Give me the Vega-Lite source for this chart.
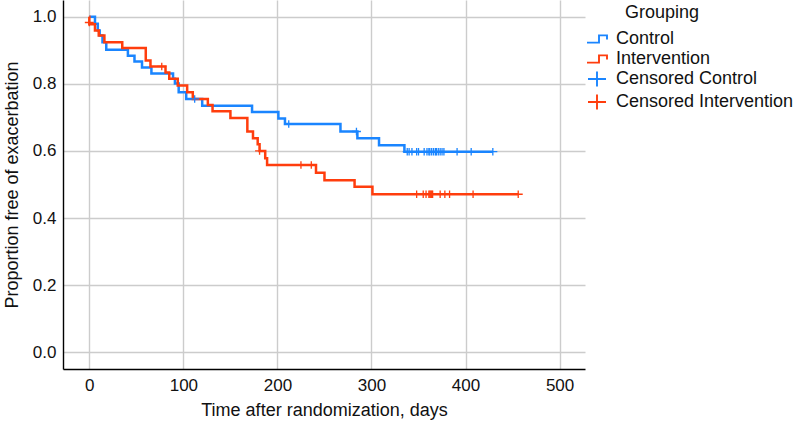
{
  "$schema": "https://vega.github.io/schema/vega-lite/v6.json",
  "autosize": "none",
  "width": 522,
  "height": 369,
  "padding": {"left": 63, "top": 0, "right": 211, "bottom": 52},
  "background": "white",
  "config": {
    "font": "Liberation Sans",
    "view": {"stroke": null},
    "axis": {
      "labelFont": "Liberation Sans",
      "titleFont": "Liberation Sans",
      "labelFontSize": 17,
      "titleFontSize": 18,
      "titleFontWeight": "normal",
      "labelColor": "#111",
      "titleColor": "#111",
      "domainColor": "#000",
      "domainWidth": 1.4,
      "gridColor": "#cccccc",
      "gridWidth": 1.4,
      "ticks": false
    }
  },
  "datasets": {
    "steps": [
      {"day": 0, "surv": 1.0, "group": "Control"},
      {"day": 6, "surv": 0.979, "group": "Control"},
      {"day": 9, "surv": 0.959, "group": "Control"},
      {"day": 11, "surv": 0.944, "group": "Control"},
      {"day": 14, "surv": 0.924, "group": "Control"},
      {"day": 18, "surv": 0.902, "group": "Control"},
      {"day": 41, "surv": 0.884, "group": "Control"},
      {"day": 48, "surv": 0.867, "group": "Control"},
      {"day": 56, "surv": 0.849, "group": "Control"},
      {"day": 66, "surv": 0.831, "group": "Control"},
      {"day": 89, "surv": 0.815, "group": "Control"},
      {"day": 91, "surv": 0.801, "group": "Control"},
      {"day": 95, "surv": 0.775, "group": "Control"},
      {"day": 103, "surv": 0.755, "group": "Control"},
      {"day": 120, "surv": 0.735, "group": "Control"},
      {"day": 173, "surv": 0.716, "group": "Control"},
      {"day": 201, "surv": 0.697, "group": "Control"},
      {"day": 208, "surv": 0.68, "group": "Control"},
      {"day": 267, "surv": 0.658, "group": "Control"},
      {"day": 285, "surv": 0.638, "group": "Control"},
      {"day": 308, "surv": 0.617, "group": "Control"},
      {"day": 335, "surv": 0.598, "group": "Control"},
      {"day": 429, "surv": 0.598, "group": "Control"},
      {"day": 0, "surv": 1.0, "group": "Intervention"},
      {"day": 0.01, "surv": 0.978, "group": "Intervention"},
      {"day": 6, "surv": 0.959, "group": "Intervention"},
      {"day": 10, "surv": 0.944, "group": "Intervention"},
      {"day": 16, "surv": 0.924, "group": "Intervention"},
      {"day": 35, "surv": 0.907, "group": "Intervention"},
      {"day": 60, "surv": 0.87, "group": "Intervention"},
      {"day": 65, "surv": 0.852, "group": "Intervention"},
      {"day": 81, "surv": 0.834, "group": "Intervention"},
      {"day": 85, "surv": 0.815, "group": "Intervention"},
      {"day": 94, "surv": 0.795, "group": "Intervention"},
      {"day": 104, "surv": 0.775, "group": "Intervention"},
      {"day": 110, "surv": 0.755, "group": "Intervention"},
      {"day": 126, "surv": 0.737, "group": "Intervention"},
      {"day": 131, "surv": 0.718, "group": "Intervention"},
      {"day": 150, "surv": 0.698, "group": "Intervention"},
      {"day": 168, "surv": 0.658, "group": "Intervention"},
      {"day": 174, "surv": 0.638, "group": "Intervention"},
      {"day": 179, "surv": 0.62, "group": "Intervention"},
      {"day": 181, "surv": 0.6, "group": "Intervention"},
      {"day": 187, "surv": 0.578, "group": "Intervention"},
      {"day": 189, "surv": 0.558, "group": "Intervention"},
      {"day": 241, "surv": 0.535, "group": "Intervention"},
      {"day": 250, "surv": 0.513, "group": "Intervention"},
      {"day": 282, "surv": 0.493, "group": "Intervention"},
      {"day": 301, "surv": 0.471, "group": "Intervention"},
      {"day": 456, "surv": 0.471, "group": "Intervention"}
    ],
    "censored": [
      {"day": 112, "surv": 0.755, "group": "Censored Control"},
      {"day": 212, "surv": 0.68, "group": "Censored Control"},
      {"day": 284, "surv": 0.658, "group": "Censored Control"},
      {"day": 338, "surv": 0.598, "group": "Censored Control"},
      {"day": 340, "surv": 0.598, "group": "Censored Control"},
      {"day": 343, "surv": 0.598, "group": "Censored Control"},
      {"day": 348, "surv": 0.598, "group": "Censored Control"},
      {"day": 350, "surv": 0.598, "group": "Censored Control"},
      {"day": 356, "surv": 0.598, "group": "Censored Control"},
      {"day": 359, "surv": 0.598, "group": "Censored Control"},
      {"day": 361, "surv": 0.598, "group": "Censored Control"},
      {"day": 362, "surv": 0.598, "group": "Censored Control"},
      {"day": 364, "surv": 0.598, "group": "Censored Control"},
      {"day": 366, "surv": 0.598, "group": "Censored Control"},
      {"day": 368, "surv": 0.598, "group": "Censored Control"},
      {"day": 369, "surv": 0.598, "group": "Censored Control"},
      {"day": 371, "surv": 0.598, "group": "Censored Control"},
      {"day": 373, "surv": 0.598, "group": "Censored Control"},
      {"day": 375, "surv": 0.598, "group": "Censored Control"},
      {"day": 377, "surv": 0.598, "group": "Censored Control"},
      {"day": 391, "surv": 0.598, "group": "Censored Control"},
      {"day": 406, "surv": 0.598, "group": "Censored Control"},
      {"day": 429, "surv": 0.598, "group": "Censored Control"},
      {"day": 0, "surv": 0.983, "group": "Censored Intervention"},
      {"day": 77, "surv": 0.852, "group": "Censored Intervention"},
      {"day": 181, "surv": 0.6, "group": "Censored Intervention"},
      {"day": 225, "surv": 0.558, "group": "Censored Intervention"},
      {"day": 236, "surv": 0.558, "group": "Censored Intervention"},
      {"day": 348, "surv": 0.471, "group": "Censored Intervention"},
      {"day": 355, "surv": 0.471, "group": "Censored Intervention"},
      {"day": 358, "surv": 0.471, "group": "Censored Intervention"},
      {"day": 361, "surv": 0.471, "group": "Censored Intervention"},
      {"day": 362, "surv": 0.471, "group": "Censored Intervention"},
      {"day": 363, "surv": 0.471, "group": "Censored Intervention"},
      {"day": 364, "surv": 0.471, "group": "Censored Intervention"},
      {"day": 365, "surv": 0.471, "group": "Censored Intervention"},
      {"day": 373, "surv": 0.471, "group": "Censored Intervention"},
      {"day": 378, "surv": 0.471, "group": "Censored Intervention"},
      {"day": 383, "surv": 0.471, "group": "Censored Intervention"},
      {"day": 408, "surv": 0.471, "group": "Censored Intervention"},
      {"day": 456, "surv": 0.471, "group": "Censored Intervention"}
    ]
  },
  "layer": [
    {
      "data": {"name": "steps"},
      "mark": {"type": "line", "interpolate": "step-after", "strokeWidth": 2.5},
      "encoding": {
        "x": {
          "field": "day", "type": "quantitative",
          "scale": {"domain": [-28, 527], "nice": false, "zero": false},
          "axis": {"values": [0, 100, 200, 300, 400, 500], "title": "Time after randomization, days", "labelPadding": 8, "titlePadding": 8, "grid": true}
        },
        "y": {
          "field": "surv", "type": "quantitative",
          "scale": {"domain": [-0.05, 1.05], "nice": false, "zero": false},
          "axis": {"values": [0, 0.2, 0.4, 0.6, 0.8, 1.0], "format": ".1f", "title": "Proportion free of exacerbation", "labelPadding": 7, "titlePadding": 11, "grid": true}
        },
        "color": {
          "field": "group", "type": "nominal",
          "scale": {
            "domain": ["Control", "Intervention", "Censored Control", "Censored Intervention"],
            "range": ["#1a85ff", "#ff3d0d", "#1a85ff", "#ff3d0d"]
          },
          "legend": {
            "title": "\u2800\u2800\u2800Grouping",
            "orient": "none",
            "legendX": 523,
            "legendY": 4,
            "titleFontSize": 18,
            "titleFontWeight": "normal",
            "titleColor": "#111",
            "titleFont": "Liberation Sans",
            "titlePadding": 6,
            "labelFontSize": 18,
            "labelColor": "#111",
            "labelFont": "Liberation Sans",
            "labelLimit": 300,
            "symbolSize": 400,
            "symbolStrokeWidth": 1.9,
            "symbolFillColor": "transparent",
            "labelOffset": 8,
            "rowPadding": -1
          }
        }
      }
    },
    {
      "data": {"name": "censored"},
      "mark": {"type": "point", "filled": false, "size": 100, "strokeWidth": 1.3, "opacity": 1},
      "encoding": {
        "x": {"field": "day", "type": "quantitative"},
        "y": {"field": "surv", "type": "quantitative"},
        "color": {"field": "group", "type": "nominal"},
        "shape": {
          "field": "group", "type": "nominal",
          "scale": {
            "domain": ["Control", "Intervention", "Censored Control", "Censored Intervention"],
            "range": ["M-1,0.36H0.2V-0.36H1V0.06", "M-1,0.36H0.2V-0.36H1V0.06", "M-0.9,0H0.9M0,-0.75V0.75", "M-0.9,0H0.9M0,-0.75V0.75"]
          },
          "legend": {"title": "\u2800\u2800\u2800Grouping", "orient": "none", "legendX": 523, "legendY": 4}
        }
      }
    }
  ]
}
